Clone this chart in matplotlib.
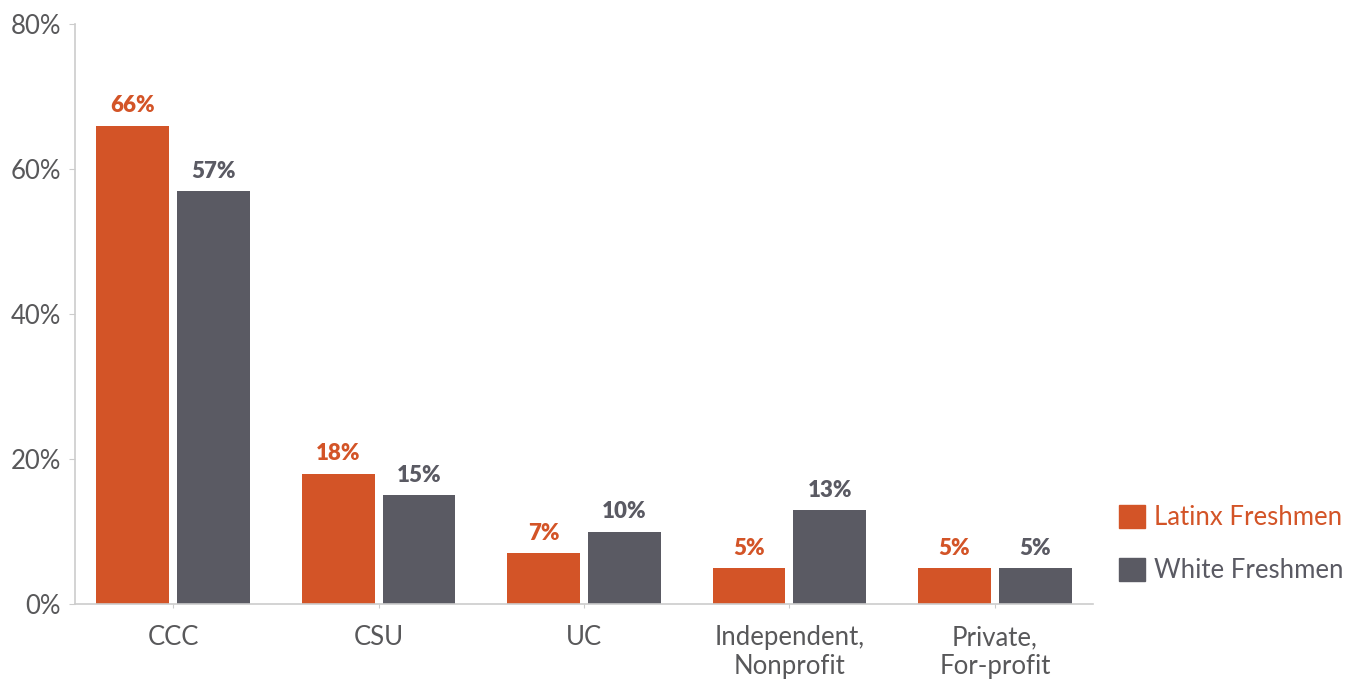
import numpy as np
import matplotlib.pyplot as plt
from matplotlib.patches import Patch

# data
categories = ["CCC", "CSU", "UC", "Independent,\nNonprofit", "Private,\nFor-profit"]
latinx = [66, 18, 7, 5, 5]
white = [57, 15, 10, 13, 5]
series_names = ["Latinx Freshmen", "White Freshmen"]

orange = "#D35427"
gray = "#5A5A63"
txt = "#58585A"

plt.rcParams['font.family'] = ['Lato', 'DejaVu Sans']

fig = plt.figure(figsize=(13.63, 6.79), dpi=100)
ax = fig.add_axes([75 / 1363, 75 / 679, 1018 / 1363, 580 / 679])

x = np.arange(len(categories))
w = 0.355
off = 0.197
b1 = ax.bar(x - off, latinx, w, color=orange)
b2 = ax.bar(x + off, white, w, color=gray)

for rect, v in zip(b1, latinx):
    ax.text(rect.get_x() + rect.get_width() / 2, v + 1.25, f"{v}%", ha="center", va="bottom",
            fontsize=16, fontweight="heavy", color=orange)
for rect, v in zip(b2, white):
    ax.text(rect.get_x() + rect.get_width() / 2, v + 1.25, f"{v}%", ha="center", va="bottom",
            fontsize=16, fontweight="heavy", color=gray)

ax.set_xlim(-0.477, 4.477)
ax.set_ylim(0, 80)
ax.set_yticks([0, 20, 40, 60, 80])
ax.set_yticklabels([f"{t}%" for t in [0, 20, 40, 60, 80]])
ax.set_xticks(x)
ax.set_xticklabels(categories)
ax.tick_params(axis="y", labelsize=18.5, colors="#cccccc", labelcolor=txt, length=4, pad=6)
ax.tick_params(axis="x", labelsize=18.5, colors="#cccccc", labelcolor=txt, length=3, pad=12)
for lab in ax.get_xticklabels():
    lab.set_linespacing(1.2)

for s in ["top", "right"]:
    ax.spines[s].set_visible(False)
for s in ["left", "bottom"]:
    ax.spines[s].set_color("#cccccc")
    ax.spines[s].set_linewidth(1.2)

handles = [Patch(color=orange), Patch(color=gray)]
leg = fig.legend(handles, series_names, loc="center left", bbox_to_anchor=(1119 / 1363, 1 - 544 / 679),
                 frameon=False, fontsize=18.5, handlelength=1.0, handleheight=1.0,
                 handletextpad=0.35, labelspacing=1.1, borderpad=0, borderaxespad=0)
leg.get_texts()[0].set_color(orange)
leg.get_texts()[1].set_color(gray)

fig.savefig("out.png", dpi=100)
